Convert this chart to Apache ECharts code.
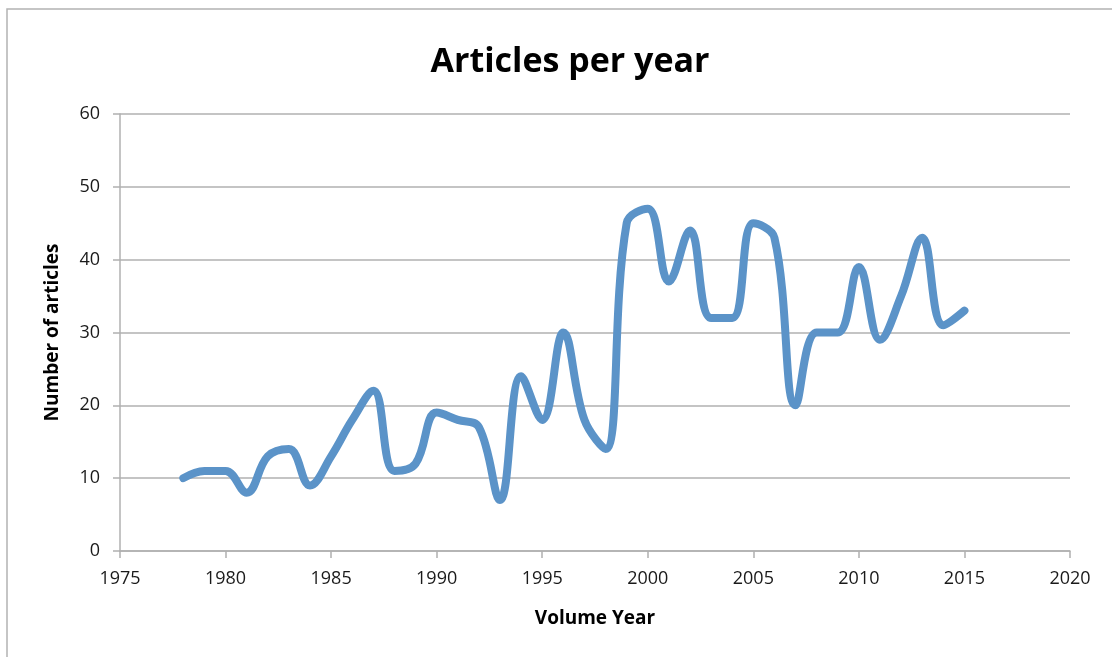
<!DOCTYPE html>
<html>
<head>
<meta charset="utf-8">
<script src="https://cdn.jsdelivr.net/npm/echarts@6/dist/echarts.min.js"></script>
<style>html,body{margin:0;padding:0;background:#fff}#c{width:1112px;height:657px}</style>
</head>
<body>
<div id="c"></div>
<script>
const years = [1978,1979,1980,1981,1982,1983,1984,1985,1986,1987,1988,1989,1990,1991,1992,1993,1994,1995,1996,1997,1998,1999,2000,2001,2002,2003,2004,2005,2006,2007,2008,2009,2010,2011,2012,2013,2014,2015];
const articles = [10,11,11,8,13,14,9,13,18,22,11,12,19,18,17,7,24,18,30,18,14,45,47,37,44,32,32,45,43,20,30,30,39,29,35,43,31,33];
const titleText = 'Articles per year';
const xName = 'Volume Year';
const yName = 'Number of articles';

const chart = echarts.init(document.getElementById('c'), null, {renderer: 'canvas'});
const font = 'Open Sans';
chart.setOption({
  animation: false,
  backgroundColor: '#fff',
  title: {
    text: titleText, left: 565, textAlign: 'center', top: 40,
    textStyle: {fontFamily: font, fontSize: 34, fontWeight: 'bold', color: '#000'}
  },
  graphic: [{
    type: 'rect', shape: {x: 7, y: 9, width: 1200, height: 800},
    style: {fill: 'none', stroke: '#b3b3b3', lineWidth: 1.5}, silent: true, z: -1
  }],
  grid: {left: 120, right: 42, top: 114, bottom: 106, containLabel: false},
  xAxis: {
    type: 'value', min: 1975, max: 2020, interval: 5,
    name: xName, nameLocation: 'middle', nameGap: 58,
    nameTextStyle: {fontFamily: font, fontSize: 19, fontWeight: 'bold', color: '#000'},
    axisLine: {show: true, lineStyle: {color: '#b0b0b0', width: 1.5}},
    axisTick: {show: true, length: 7, lineStyle: {color: '#b0b0b0', width: 1.5}},
    axisLabel: {fontFamily: font, fontSize: 18, color: '#1a1a1a', margin: 19, formatter: v => String(v)},
    splitLine: {show: false}
  },
  yAxis: {
    type: 'value', min: 0, max: 60, interval: 10,
    name: yName, nameLocation: 'middle', nameGap: 58, nameRotate: 90,
    nameTextStyle: {fontFamily: font, fontSize: 19, fontWeight: 'bold', color: '#000'},
    axisLine: {show: true, lineStyle: {color: '#b0b0b0', width: 1.5}},
    axisTick: {show: true, length: 7, lineStyle: {color: '#b0b0b0', width: 1.5}},
    axisLabel: {fontFamily: font, fontSize: 18, color: '#1a1a1a', margin: 20},
    splitLine: {show: true, lineStyle: {color: '#b0b0b0', width: 1.5}}
  },
  series: [{
    type: 'line', data: years.map((y, i) => [y, articles[i]]),
    smooth: 0.4, showSymbol: false, symbol: 'none',
    lineStyle: {color: '#5B93C8', width: 8, cap: 'round', join: 'round'}
  }]
});
</script>
</body>
</html>
